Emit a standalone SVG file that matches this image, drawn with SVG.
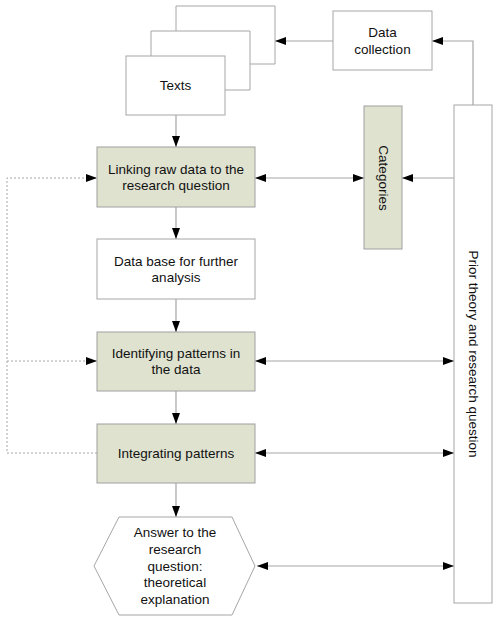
<svg xmlns="http://www.w3.org/2000/svg" width="500" height="619" viewBox="0 0 500 619">
<style>
.box{fill:#fff;stroke:#a6a6a6;stroke-width:1}
.g{fill:#dfe2cf;stroke:#a0a0a0;stroke-width:1}
.t{font-family:"Liberation Sans",Arial,sans-serif;font-size:13.5px;fill:#111;text-anchor:middle}
.c{fill:none;stroke:#a6a6a6;stroke-width:1.2}
.d{fill:none;stroke:#a6a6a6;stroke-width:1;stroke-dasharray:2,2}
</style>
<defs>
<marker id="a" markerUnits="userSpaceOnUse" markerWidth="11" markerHeight="8" refX="11" refY="4" orient="auto-start-reverse" viewBox="0 0 11 8">
<path d="M0,0 L11,4 L0,8 z" fill="#000"/>
</marker>
</defs>
<rect width="500" height="619" fill="#fff"/>
<g id="connectors">
<path class="c" d="M176,115 V147" marker-end="url(#a)"/>
<path class="c" d="M176,207 V239" marker-end="url(#a)"/>
<path class="c" d="M176,299 V332" marker-end="url(#a)"/>
<path class="c" d="M176,391 V424" marker-end="url(#a)"/>
<path class="c" d="M176,483 V517" marker-end="url(#a)"/>
<path class="c" d="M333,41 H275" marker-end="url(#a)"/>
<path class="c" d="M473,105 V41 H432" marker-end="url(#a)"/>
<path class="c" d="M255,178 H364" marker-start="url(#a)" marker-end="url(#a)"/>
<path class="c" d="M454,178 H402" marker-end="url(#a)"/>
<path class="c" d="M255,361 H454" marker-start="url(#a)" marker-end="url(#a)"/>
<path class="c" d="M255,453 H454" marker-start="url(#a)" marker-end="url(#a)"/>
<path class="c" d="M257,566 H454" marker-start="url(#a)" marker-end="url(#a)"/>
<path class="d" d="M97,453 H7 V178 H97" marker-end="url(#a)"/>
<path class="d" d="M7,361 H97" marker-end="url(#a)"/>
</g>
<g id="texts-stack">
<path class="box" d="M176,31 V6 H275 V64 H250"/>
<path class="box" d="M151,56 V31 H250 V90 H225"/>
</g>
<g id="texts">
<rect class="box" x="126" y="56" width="99" height="59"/>
<text class="t" x="175.5" y="90">Texts</text>
</g>
<g id="data-collection">
<rect class="box" x="333" y="11" width="99" height="59"/>
<text class="t" x="382.5" y="37">Data</text>
<text class="t" x="382.5" y="54">collection</text>
</g>
<g id="linking">
<rect class="g" x="97" y="147" width="158" height="60"/>
<text class="t" x="176" y="174">Linking raw data to the</text>
<text class="t" x="176" y="190">research question</text>
</g>
<g id="categories">
<rect class="g" x="364" y="106" width="38" height="143"/>
<text class="t" transform="translate(378.5,178) rotate(90)" x="0" y="0">Categories</text>
</g>
<g id="prior">
<rect class="box" x="454" y="105" width="38" height="498"/>
<text class="t" transform="translate(468.5,354) rotate(90)" x="0" y="0">Prior theory and research question</text>
</g>
<g id="database">
<rect class="box" x="97" y="239" width="158" height="60"/>
<text class="t" x="176" y="266">Data base for further</text>
<text class="t" x="176" y="282">analysis</text>
</g>
<g id="identifying">
<rect class="g" x="97" y="332" width="158" height="59"/>
<text class="t" x="176" y="358">Identifying patterns in</text>
<text class="t" x="176" y="374">the data</text>
</g>
<g id="integrating">
<rect class="g" x="97" y="424" width="158" height="59"/>
<text class="t" x="176" y="458">Integrating patterns</text>
</g>
<g id="answer">
<polygon class="box" points="94,566 119,517 232,517 255,566 232,615 119,615"/>
<text class="t" x="175" y="537">Answer to the</text>
<text class="t" x="175" y="554">research</text>
<text class="t" x="175" y="571">question:</text>
<text class="t" x="175" y="587">theoretical</text>
<text class="t" x="175" y="604">explanation</text>
</g>
</svg>
